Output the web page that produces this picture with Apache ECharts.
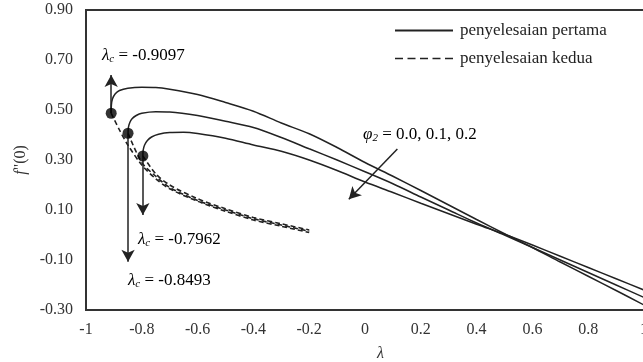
<!DOCTYPE html>
<html>
<head>
<meta charset="utf-8">
<script src="https://cdn.jsdelivr.net/npm/echarts@6/dist/echarts.min.js"></script>
<style>
  html, body { margin: 0; padding: 0; background: #fff; }
  #chart { width: 643px; height: 362px; }
</style>
</head>
<body>
<div id="chart"></div>
<script>
// first solution (solid), three values of phi2
const lam1 = [-0.9097, -0.909, -0.905, -0.895, -0.88, -0.85, -0.8, -0.75, -0.7, -0.6, -0.5, -0.4, -0.3, -0.2, -0.1, 0, 0.1, 0.2, 0.3, 0.4, 0.5, 0.6, 0.7, 0.8, 0.9, 1.0];
const first1 = [0.487, 0.52, 0.545, 0.565, 0.578, 0.587, 0.591, 0.59, 0.583, 0.562, 0.53, 0.495, 0.448, 0.405, 0.35, 0.29, 0.235, 0.178, 0.12, 0.062, 0.005, -0.05, -0.108, -0.165, -0.222, -0.28];
const lam2 = [-0.8493, -0.848, -0.843, -0.835, -0.82, -0.8, -0.75, -0.7, -0.6, -0.5, -0.4, -0.3, -0.2, -0.1, 0, 0.1, 0.2, 0.3, 0.4, 0.5, 0.6, 0.7, 0.8, 0.9, 1.0];
const first2 = [0.407, 0.43, 0.45, 0.465, 0.478, 0.487, 0.493, 0.492, 0.478, 0.455, 0.43, 0.39, 0.345, 0.3, 0.253, 0.205, 0.152, 0.1, 0.048, 0.0, -0.05, -0.1, -0.15, -0.2, -0.25];
const lam3 = [-0.7962, -0.795, -0.79, -0.78, -0.765, -0.74, -0.7, -0.65, -0.6, -0.5, -0.4, -0.3, -0.2, -0.1, 0, 0.1, 0.2, 0.3, 0.4, 0.5, 0.6, 0.7, 0.8, 0.9, 1.0];
const first3 = [0.316, 0.34, 0.36, 0.378, 0.392, 0.403, 0.41, 0.411, 0.406, 0.387, 0.36, 0.335, 0.3, 0.258, 0.212, 0.17, 0.127, 0.085, 0.043, 0.003, -0.04, -0.085, -0.13, -0.175, -0.22];

// second solution (dashed)
const lamS1 = [-0.9097, -0.88, -0.85, -0.8, -0.75, -0.7, -0.6, -0.5, -0.4, -0.3, -0.2];
const second1 = [0.487, 0.42, 0.36, 0.28, 0.225, 0.185, 0.135, 0.095, 0.06, 0.035, 0.01];
const lamS2 = [-0.8493, -0.8, -0.75, -0.7, -0.6, -0.5, -0.4, -0.3, -0.2];
const second2 = [0.407, 0.29, 0.235, 0.19, 0.138, 0.1, 0.065, 0.04, 0.015];
const lamS3 = [-0.7962, -0.75, -0.7, -0.6, -0.5, -0.4, -0.3, -0.2];
const second3 = [0.316, 0.245, 0.2, 0.145, 0.105, 0.07, 0.045, 0.02];

// critical points and arrow ends
const lamC = [-0.9097, -0.8493, -0.7962];
const fC = [0.487, 0.407, 0.316];
const arrowEnd = [0.64, -0.107, 0.08];
const phiArrow = [[0.116, 0.344], [-0.058, 0.143]];

const yTicks = [-0.3, -0.1, 0.1, 0.3, 0.5, 0.7, 0.9];

const FONT = 'Liberation Serif';
const INK = '#222';

const zip = (xs, ys) => xs.map((x, i) => [x, ys[i]]);

const solid = (data) => ({
  type: 'line', name: 'penyelesaian pertama', data, symbol: 'none', smooth: 0.3,
  lineStyle: { color: INK, width: 1.5, type: 'solid' }, itemStyle: { color: INK }, z: 3,
});
const dashed = (data) => ({
  type: 'line', name: 'penyelesaian kedua', data, symbol: 'none', smooth: 0.3,
  lineStyle: { color: INK, width: 1.6, type: [5, 3] }, itemStyle: { color: INK }, z: 3,
});

const arrowLines = lamC.map((l, i) => [{ coord: [l, fC[i]] }, { coord: [l, arrowEnd[i]] }]);
arrowLines.push([{ coord: phiArrow[0] }, { coord: phiArrow[1] }]);

const rich = {
  l: { fontFamily: FONT, fontStyle: 'italic', fontSize: 17, color: INK },
  s: { fontFamily: FONT, fontStyle: 'italic', fontSize: 11, color: INK, padding: [8, 0, 0, 0] },
  t: { fontFamily: FONT, fontSize: 17, color: INK },
};
const note = (left, top, sym, val) => ({
  type: 'text', left, top,
  style: { text: '{l|' + sym + '}{s|' + (sym === 'φ' ? '2' : 'c') + '}{t| = ' + val + '}', rich },
});

const chart = echarts.init(document.getElementById('chart'));
chart.setOption({
  animation: false,
  backgroundColor: '#fff',
  grid: {
    left: 86, top: 10, right: -1, bottom: 52, outerBoundsMode: 'none',
    show: true, borderColor: '#333', borderWidth: 2,
  },
  legend: {
    orient: 'vertical', left: 389, top: 17, itemWidth: 58, itemHeight: 10, itemGap: 11,
    data: [
      { name: 'penyelesaian pertama' },
      { name: 'penyelesaian kedua', lineStyle: { type: [8, 4.5], width: 1.6 } },
    ],
    itemStyle: { opacity: 0 },
    textStyle: { fontFamily: FONT, fontSize: 17, color: INK, padding: [0, 0, 0, 2] },
  },
  xAxis: {
    type: 'value', min: -1, max: 1, interval: 0.2,
    axisLine: { show: false }, axisTick: { show: false }, splitLine: { show: false },
    axisLabel: { fontFamily: FONT, fontSize: 16, color: '#333', margin: 12 },
  },
  yAxis: {
    type: 'value', min: -0.3, max: 0.9,
    axisLine: { show: false }, axisTick: { show: false }, splitLine: { show: false },
    axisLabel: {
      customValues: yTicks, fontFamily: FONT, fontSize: 16, color: '#333', margin: 13,
      formatter: (v) => v.toFixed(2),
    },
    name: "{f|f}{r|\"(0)}", nameLocation: 'middle', nameGap: 52,
    nameTextStyle: {
      rich: {
        f: { fontFamily: FONT, fontStyle: 'italic', fontSize: 16, color: '#333' },
        r: { fontFamily: FONT, fontSize: 16, color: '#333' },
      },
    },
  },
  graphic: [
    note(102, 47, 'λ', '-0.9097'),
    note(138, 231, 'λ', '-0.7962'),
    note(128, 272, 'λ', '-0.8493'),
    note(363, 126, 'φ', '0.0, 0.1, 0.2'),
    { type: 'text', left: 377, top: 346, style: { text: 'λ', fontFamily: FONT, fontStyle: 'italic', fontSize: 16, fill: '#333' } },
  ],
  series: [
    solid(zip(lam1, first1)),
    solid(zip(lam2, first2)),
    solid(zip(lam3, first3)),
    dashed(zip(lamS1, second1)),
    dashed(zip(lamS2, second2)),
    dashed(zip(lamS3, second3)),
    {
      type: 'scatter', data: zip(lamC, fC), symbolSize: 11, itemStyle: { color: '#000' }, z: 5,
      markLine: {
        silent: true, symbol: ['none', 'arrow'], symbolSize: [10, 12],
        lineStyle: { color: INK, width: 1.5, type: 'solid' }, label: { show: false },
        data: arrowLines,
      },
    },
  ],
});
</script>
</body>
</html>
